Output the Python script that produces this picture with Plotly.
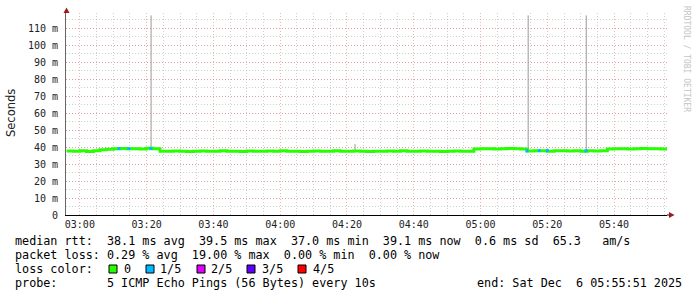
import pandas as pd
import plotly.graph_objects as go

# ---------------- data ----------------
start_time = "2025-12-06 02:55:51"
end_time = "2025-12-06 05:55:51"
sample_times = pd.date_range("2025-12-06 02:56:00", periods=91, freq="2min")
median_ms = [
    37.7, 37.5, 37.8, 37.4, 37.9, 38.5, 38.8, 39.0, 39.2, 39.0, 39.1, 38.9, 39.3, 39.0, 37.6,
    37.5, 37.7, 37.6, 37.4, 37.6, 37.7, 37.5, 37.6, 37.8, 37.5, 37.6, 37.4, 37.7, 37.6, 37.5,
    37.7, 37.6, 37.8, 37.5, 37.6, 37.4, 37.6, 37.7, 37.5, 37.6, 37.8, 37.6, 37.5, 37.7, 37.6,
    37.4, 37.6, 37.5, 37.7, 37.6, 37.8, 37.5, 37.6, 37.7, 37.5, 37.6, 37.4, 37.6, 37.7, 37.5,
    37.6,
    38.9, 39.0, 39.1, 38.9, 39.0, 39.2, 39.0, 38.9,
    37.7, 37.9, 37.8, 37.6, 37.8, 37.9, 37.7, 37.8, 37.6, 37.8, 37.7, 37.9,
    38.9, 39.0, 39.1, 38.9, 39.0, 39.2, 39.0, 39.1, 38.9, 39.0,
]
# smoke spikes (max ping rtt)
spike_times = ["2025-12-06 03:21:20", "2025-12-06 04:22:25", "2025-12-06 05:14:16", "2025-12-06 05:31:40"]
spike_base = [39.2, 37.6, 37.8, 37.8]
spike_top = [117.6, 41.8, 117.6, 117.6]
# samples with 1/5 loss
loss1_times = ["2025-12-06 03:11:42", "2025-12-06 03:14:40", "2025-12-06 03:21:17",
               "2025-12-06 05:13:54", "2025-12-06 05:17:35", "2025-12-06 05:20:00", "2025-12-06 05:31:35"]
loss1_vals = [39.1, 39.1, 39.1, 37.8, 37.9, 37.9, 37.8]

y_tickvals = [0, 10, 20, 30, 40, 50, 60, 70, 80, 90, 100, 110]
y_ticktext = ["0", "10 m", "20 m", "30 m", "40 m", "50 m", "60 m", "70 m", "80 m", "90 m", "100 m", "110 m"]

loss_labels = ["0", "1/5", "2/5", "3/5", "4/5"]
loss_colors = ["#26ff00", "#00b8ff", "#dd00ff", "#5e00ff", "#ff0000"]

legend_line1 = "median rtt:  38.1 ms avg  39.5 ms max  37.0 ms min  39.1 ms now  0.6 ms sd  65.3   am/s"
legend_line2 = "packet loss: 0.29 % avg  19.00 % max  0.00 % min  0.00 % now"
legend_line3 = "loss color:"
legend_line4 = "probe:       5 ICMP Echo Pings (56 Bytes) every 10s"
legend_end = "end: Sat Dec  6 05:55:51 2025"

# ---------------- layout geometry (pixels) ----------------
W, H = 697, 297
L, R, T, B = 66, 667, 13, 215
pw, ph = R - L, B - T


def px(x):
    return (x - L) / pw


def py(y):
    return (B - y) / ph


MONO = "DejaVu Sans Mono"
nb = lambda s: s.replace(" ", "\u00a0")

fig = go.Figure()

# smoke spikes
sx, sy = [], []
for t, b0, t0 in zip(spike_times, spike_base, spike_top):
    sx += [t, t, None]
    sy += [b0, t0, None]
fig.add_trace(go.Scatter(x=sx, y=sy, mode="lines", line=dict(color="#999999", width=1),
                         hoverinfo="skip", showlegend=False))

# median line
fig.add_trace(go.Scatter(x=sample_times, y=median_ms, mode="lines",
                         line=dict(color=loss_colors[0], width=3, shape="hv"),
                         showlegend=False))

# 1/5 loss marks
fig.add_trace(go.Scatter(x=loss1_times, y=loss1_vals, mode="markers",
                         marker=dict(symbol="square", size=3, color=loss_colors[1], line=dict(width=0)),
                         showlegend=False))

grid_major = "rgba(228,120,120,0.55)"
grid_minor = "rgba(150,150,150,0.45)"
DASH = "1px,2px"

fig.update_layout(
    width=W, height=H,
    margin=dict(l=L, r=W - R, t=T, b=H - B, pad=0),
    paper_bgcolor="white", plot_bgcolor="white",
    font=dict(family=MONO, size=10, color="#222222"),
    xaxis=dict(
        type="date", range=[start_time, end_time],
        tickformat="%H:%M", dtick=20 * 60 * 1000, tick0="2025-12-06 03:00:00",
        showgrid=True, gridcolor=grid_major, griddash=DASH, gridwidth=1,
        minor=dict(dtick=5 * 60 * 1000, tick0="2025-12-06 03:00:00", showgrid=True,
                   gridcolor=grid_minor, griddash=DASH, gridwidth=1),
        showline=True, linecolor="#000000", linewidth=1,
        zeroline=False, ticks="", tickfont=dict(family=MONO, size=10, color="#222222"),
        fixedrange=True,
    ),
    yaxis=dict(
        range=[0, 119], tickmode="array", tickvals=y_tickvals, ticktext=y_ticktext,
        showgrid=True, gridcolor=grid_major, griddash=DASH, gridwidth=1,
        minor=dict(dtick=5, tick0=0, showgrid=True, gridcolor=grid_minor, griddash=DASH, gridwidth=1),
        showline=True, linecolor="#666666", linewidth=1,
        zeroline=False, ticks="", ticklabelstandoff=5,
        tickfont=dict(family=MONO, size=10, color="#222222"),
        fixedrange=True,
    ),
)

shapes = []
arrow_col = "#9b1c1c"
# y arrow
shapes.append(dict(type="path", xref="paper", yref="paper",
                   path=f"M {px(66.5)} {py(7.5)} L {px(63.5)} {py(13)} L {px(69.5)} {py(13)} Z",
                   fillcolor=arrow_col, line=dict(width=0)))
# x axis extension + arrow
shapes.append(dict(type="line", xref="paper", yref="paper", x0=1, x1=px(670), y0=0, y1=0,
                   line=dict(color="#000000", width=1)))
shapes.append(dict(type="path", xref="paper", yref="paper",
                   path=f"M {px(674.5)} {py(215)} L {px(669)} {py(212)} L {px(669)} {py(218)} Z",
                   fillcolor=arrow_col, line=dict(width=0)))

annotations = []
LEG_FONT = dict(family=MONO, size=11.75, color="#000000")


def leg(text, x, y):
    annotations.append(dict(text=nb(text), xref="paper", yref="paper", x=px(x), y=py(y),
                            xanchor="left", yanchor="middle", showarrow=False, font=LEG_FONT,
                            borderpad=0, borderwidth=0))


leg(legend_line1, 15, 241)
leg(legend_line2, 15, 255)
leg(legend_line3, 15, 269)
leg(legend_line4, 15, 283)
leg(legend_end, 477, 283)

box_x = [109, 146, 197, 247, 298]
text_x = [123.5, 159.5, 210.5, 261.5, 312.5]
for lbl, col, bx, tx in zip(loss_labels, loss_colors, box_x, text_x):
    shapes.append(dict(type="rect", xref="paper", yref="paper",
                       x0=px(bx), x1=px(bx + 8), y0=py(273), y1=py(265),
                       fillcolor=col, line=dict(color="#000000", width=1)))
    leg(lbl, tx, 269)

annotations.append(dict(text="Seconds", xref="paper", yref="paper", x=px(11), y=py(113),
                        xanchor="center", yanchor="middle", showarrow=False, textangle=-90,
                        font=dict(family="DejaVu Sans", size=11.5, color="#222222")))
annotations.append(dict(text=nb("RRDTOOL / TOBI OETIKER"), xref="paper", yref="paper",
                        x=px(686), y=py(59), xanchor="center", yanchor="middle", showarrow=False,
                        textangle=90, font=dict(family=MONO, size=8, color="#c4c4c4")))

fig.update_layout(shapes=shapes, annotations=annotations)
fig.write_html("out.html")
